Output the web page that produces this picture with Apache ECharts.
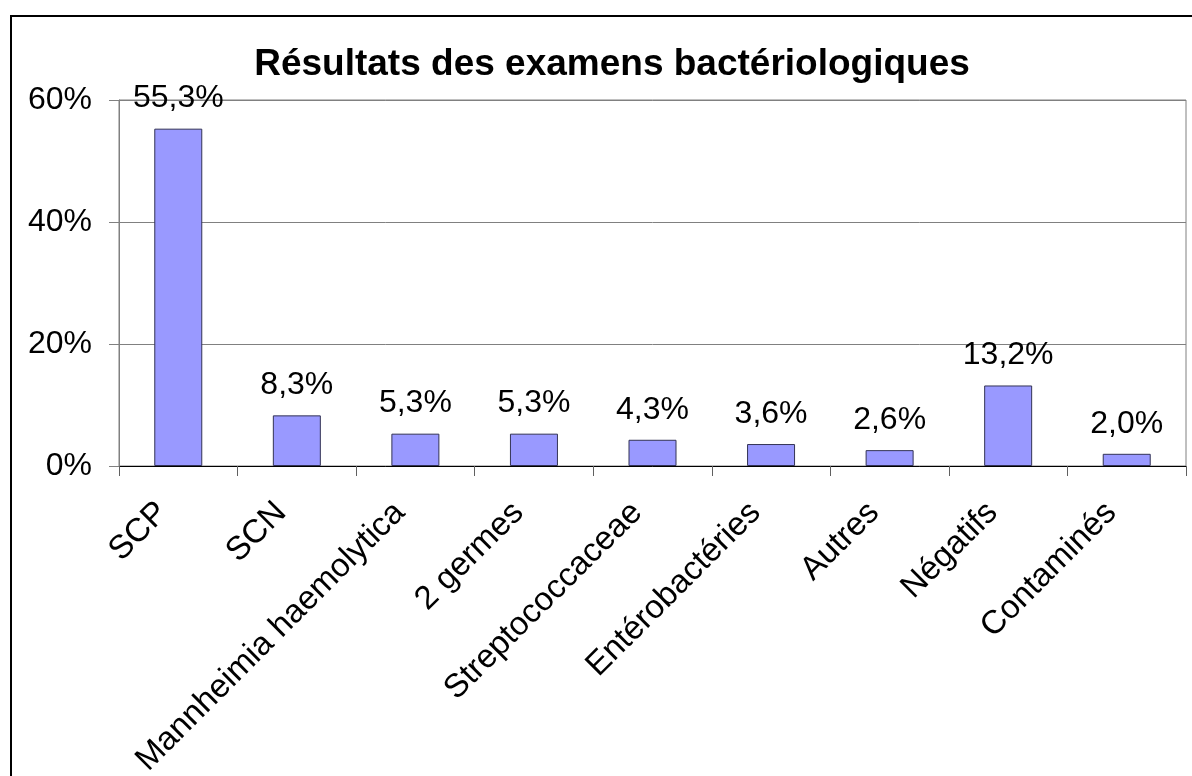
<!DOCTYPE html>
<html>
<head>
<meta charset="utf-8">
<script src="https://cdn.jsdelivr.net/npm/echarts@6/dist/echarts.min.js"></script>
<style>
  html, body { margin: 0; padding: 0; background: #fff; }
  #chart { width: 1192px; height: 776px; }
</style>
</head>
<body>
<div id="chart"></div>
<script>
const categories = ['SCP', 'SCN', 'Mannheimia haemolytica', '2 germes', 'Streptococcaceae',
  'Entérobactéries', 'Autres', 'Négatifs', 'Contaminés']
const values = [55.3, 8.3, 5.3, 5.3, 4.3, 3.6, 2.6, 13.2, 2.0]
const yTicks = [0, 20, 40, 60]

const FONT = '"Liberation Sans", Arial, sans-serif'

const chart = echarts.init(document.getElementById('chart'))

const option = {
  animation: false,
  backgroundColor: '#fff',
  title: {
    text: 'Résultats des examens bactériologiques',
    left: 607,
    top: 41,
    textAlign: 'center',
    textStyle: {
      fontFamily: FONT,
      fontSize: 37,
      fontWeight: 'bold',
      color: '#000'
    }
  },
  graphic: [
    {
      type: 'rect',
      shape: { x: 11, y: 16, width: 1200, height: 800 },
      style: { fill: 'none', stroke: '#000', lineWidth: 2 },
      z: 100
    }
  ],
  grid: {
    left: 119,
    right: 6,
    top: 100,
    bottom: 310,
    containLabel: false,
    outerBoundsMode: 'none',
    show: true,
    borderColor: '#808080',
    borderWidth: 1,
    backgroundColor: '#fff'
  },
  xAxis: {
    type: 'category',
    data: categories,
    axisLine: { lineStyle: { color: '#000', width: 1 } },
    axisTick: {
      show: true,
      length: 10,
      alignWithLabel: false,
      lineStyle: { color: '#606060' }
    },
    axisLabel: {
      interval: 0,
      rotate: 45,
      margin: 26,
      padding: [0, 22, 0, 0],
      fontFamily: FONT,
      fontSize: 33,
      color: '#000'
    }
  },
  yAxis: {
    type: 'value',
    min: 0,
    max: 60,
    interval: 20,
    axisLine: { show: true, lineStyle: { color: '#808080' } },
    axisTick: { show: true, length: 10, lineStyle: { color: '#808080' } },
    splitLine: { show: true, lineStyle: { color: '#808080', width: 1 } },
    axisLabel: {
      margin: 27,
      fontFamily: FONT,
      fontSize: 32,
      color: '#000',
      formatter: v => yTicks.includes(v) ? v + '%' : ''
    }
  },
  series: [
    {
      type: 'bar',
      data: values,
      barWidth: 48,
      itemStyle: {
        color: '#9999ff',
        borderColor: '#333355',
        borderWidth: 1
      },
      label: {
        show: true,
        position: 'top',
        distance: 14,
        fontFamily: FONT,
        fontSize: 32,
        color: '#000',
        formatter: p => p.value.toFixed(1).replace('.', ',') + '%'
      }
    }
  ]
}

chart.setOption(option)
</script>
</body>
</html>
